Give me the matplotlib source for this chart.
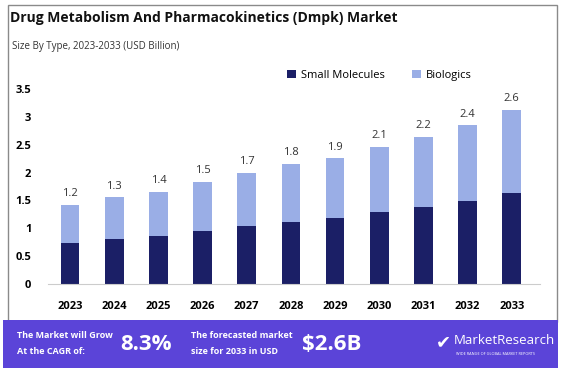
import numpy as np
import matplotlib.pyplot as plt
from matplotlib.patches import Rectangle

years = ['2023', '2024', '2025', '2026', '2027', '2028', '2029', '2030', '2031', '2032', '2033']
small_molecules = [0.74, 0.80, 0.86, 0.96, 1.05, 1.11, 1.18, 1.29, 1.39, 1.49, 1.64]
biologics = [0.68, 0.76, 0.80, 0.87, 0.95, 1.05, 1.08, 1.17, 1.25, 1.36, 1.49]
total_labels = ['1.2', '1.3', '1.4', '1.5', '1.7', '1.8', '1.9', '2.1', '2.2', '2.4', '2.6']
yticks = [0, 0.5, 1, 1.5, 2, 2.5, 3, 3.5]
ytick_labels = ['0', '0.5', '1', '1.5', '2', '2.5', '3', '3.5']

dark = '#1b1f66'
light = '#9aaee6'
purple = '#5b44d8'

plt.rcParams['font.family'] = ['Open Sans', 'DejaVu Sans']

W, H = 565, 372
fig = plt.figure(figsize=(W / 100, H / 100), dpi=100)

# outer frame
fig.patches.append(Rectangle((8 / W, 1 - 322 / H), 549 / W, 317 / H, transform=fig.transFigure,
                             fill=False, edgecolor='#8a8a8a', linewidth=1.0))

fig.text(10 / W, 1 - 18 / H, 'Drug Metabolism And Pharmacokinetics (Dmpk) Market',
         fontsize=10, fontweight='bold', color='#111111', va='center', ha='left')
fig.text(12 / W, 1 - 46 / H, 'Size By Type, 2023-2033 (USD Billion)',
         fontsize=7, color='#333333', va='center', ha='left')

ax = fig.add_axes([48 / W, 1 - 284 / H, 492 / W, 195 / H])
x = np.arange(len(years))
ax.bar(x, small_molecules, width=0.42, color=dark, label='Small Molecules')
tops = np.array(small_molecules) + np.array(biologics)
ax.bar(x, biologics, width=0.42, bottom=small_molecules, color=light, label='Biologics')
for xi, t, lab in zip(x, tops, total_labels):
    ax.text(xi, t + 0.1, lab, ha='center', va='bottom', fontsize=8, color='#333333')

ax.set_xlim(-0.5, 10.64)
ax.set_ylim(0, 3.5)
ax.set_yticks(yticks)
ax.set_yticklabels(ytick_labels, fontsize=8, fontweight='bold')
ax.set_xticks(x)
ax.set_xticklabels(years, fontsize=8, fontweight='bold')
ax.tick_params(length=0, pad=12)
for s in ['top', 'right', 'left']:
    ax.spines[s].set_visible(False)
ax.spines['bottom'].set_color('#cccccc')
ax.patch.set_alpha(0)

ax.legend(loc='upper left', bbox_to_anchor=(0.465, 1.15), ncol=2, frameon=False,
          fontsize=8, handlelength=0.8, handleheight=0.8, columnspacing=2.4, handletextpad=0.5)

# bottom banner
fig.patches.append(Rectangle((3 / W, 1 - 368 / H), 555 / W, 48 / H, transform=fig.transFigure,
                             facecolor=purple, edgecolor='none'))
fig.text(17 / W, 1 - 336 / H, 'The Market will Grow', fontsize=6.5, fontweight='bold', color='white', va='center')
fig.text(17 / W, 1 - 351 / H, 'At the CAGR of:', fontsize=6.5, fontweight='bold', color='white', va='center')
fig.text(120 / W, 1 - 344 / H, '8.3%', fontsize=16, fontweight='bold', color='white', va='center')
fig.text(191 / W, 1 - 336 / H, 'The forecasted market', fontsize=6.5, fontweight='bold', color='white', va='center')
fig.text(191 / W, 1 - 351 / H, 'size for 2033 in USD', fontsize=6.5, fontweight='bold', color='white', va='center')
fig.text(302 / W, 1 - 344 / H, '$2.6B', fontsize=16, fontweight='bold', color='white', va='center')
fig.text(436 / W, 1 - 342 / H, '\u2714', fontsize=13, color='white', va='center', family='DejaVu Sans')
fig.text(454 / W, 1 - 340 / H, 'MarketResearch', fontsize=9.5, color='white', va='center')
fig.text(456 / W, 1 - 354 / H, 'WIDE RANGE OF GLOBAL MARKET REPORTS', fontsize=2.8, color='white', va='center')

fig.savefig('out.png', dpi=100)
